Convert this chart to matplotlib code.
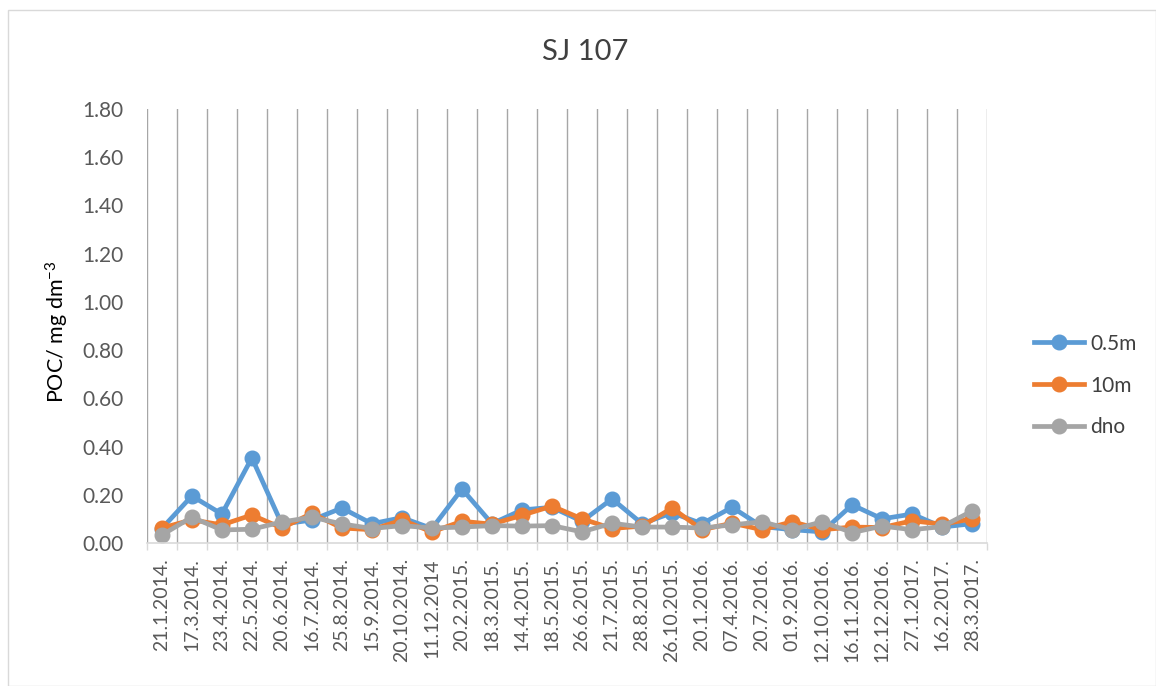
import numpy as np
import matplotlib.pyplot as plt
from matplotlib.patches import Rectangle

plt.rcParams['font.family'] = ['Lato', 'DejaVu Sans']
plt.rcParams['mathtext.default'] = 'regular'

dates = ["21.1.2014.", "17.3.2014.", "23.4.2014.", "22.5.2014.", "20.6.2014.",
         "16.7.2014.", "25.8.2014.", "15.9.2014.", "20.10.2014.", "11.12.2014",
         "20.2.2015.", "18.3.2015.", "14.4.2015.", "18.5.2015.", "26.6.2015.",
         "21.7.2015.", "28.8.2015.", "26.10.2015.", "20.1.2016.", "07.4.2016.",
         "20.7.2016.", "01.9.2016.", "12.10.2016.", "16.11.2016.", "12.12.2016.",
         "27.1.2017.", "16.2.2017.", "28.3.2017."]

poc_05m = [0.06, 0.195, 0.12, 0.353, 0.078, 0.095, 0.145, 0.08, 0.105, 0.06,
           0.224, 0.08, 0.137, 0.148, 0.09, 0.183, 0.08, 0.125, 0.08, 0.148,
           0.068, 0.055, 0.046, 0.158, 0.10, 0.12, 0.066, 0.08]
poc_10m = [0.062, 0.096, 0.075, 0.116, 0.062, 0.123, 0.062, 0.055, 0.095, 0.046,
           0.09, 0.078, 0.115, 0.153, 0.10, 0.06, 0.07, 0.145, 0.055, 0.082,
           0.055, 0.088, 0.055, 0.066, 0.064, 0.092, 0.078, 0.10]
poc_dno = [0.033, 0.107, 0.054, 0.057, 0.087, 0.107, 0.079, 0.06, 0.072, 0.062,
           0.066, 0.072, 0.07, 0.072, 0.046, 0.082, 0.066, 0.066, 0.062, 0.075,
           0.088, 0.055, 0.088, 0.043, 0.07, 0.055, 0.068, 0.133]

fig = plt.figure(figsize=(11.56, 6.86), dpi=100)
# light chart border
fig.patches.append(Rectangle((8 / 1156, 0), 1 - 8 / 1156, 1 - 10 / 686, transform=fig.transFigure,
                             fill=False, edgecolor='#d9d9d9', linewidth=1))
ax = fig.add_axes([0.127, 0.2085, 0.727, 0.6325])

x = np.arange(len(dates))
ax.plot(x, poc_05m, color='#5B9BD5', lw=3.4, marker='o', ms=10.5, label='0.5m')
ax.plot(x, poc_10m, color='#ED7D31', lw=3.4, marker='o', ms=10.5, label='10m')
ax.plot(x, poc_dno, color='#A5A5A5', lw=3.4, marker='o', ms=10.5, label='dno')

ax.set_xlim(-0.5, len(dates) - 0.5)
ax.set_ylim(0, 1.8)
yt = np.arange(0, 1.81, 0.2)
ax.set_yticks(yt)
ax.set_yticklabels([f"{v:.2f}" for v in yt])
ax.set_xticks(x)
ax.set_xticklabels(dates, rotation=90)
# gridlines between categories
ax.set_xticks(np.arange(-0.5, len(dates), 1), minor=True)
ax.tick_params(axis='x', which='major', length=0, pad=11, labelsize=14, labelcolor='#595959')
ax.tick_params(axis='x', which='minor', length=5, color='#d9d9d9', width=1)
ax.tick_params(axis='y', length=0, pad=17, labelsize=15, labelcolor='#595959')
ax.grid(True, axis='x', which='minor', color='#a6a6a6', lw=1)
ax.set_axisbelow(True)

for s in ['top', 'right', 'left']:
    ax.spines[s].set_visible(False)
ax.spines['bottom'].set_color('#d9d9d9')
ax.spines['bottom'].set_linewidth(1.2)

fig.text(57 / 1156, 1 - 332 / 686, 'POC/ mg dm$^{\\mathregular{-3}}$', rotation=90,
         ha='center', va='center', fontsize=15.5, color='#000000')
fig.text(585 / 1156, 1 - 52 / 686, 'SJ 107', ha='center', va='center', fontsize=21, color='#404040')

fig.legend(loc='upper left', bbox_to_anchor=(1015 / 1156, 1 - 315 / 686), frameon=False,
           fontsize=15, labelcolor='#404040', handlelength=2.4, labelspacing=1.05,
           handletextpad=0.3)

fig.savefig('out.png', dpi=100)
